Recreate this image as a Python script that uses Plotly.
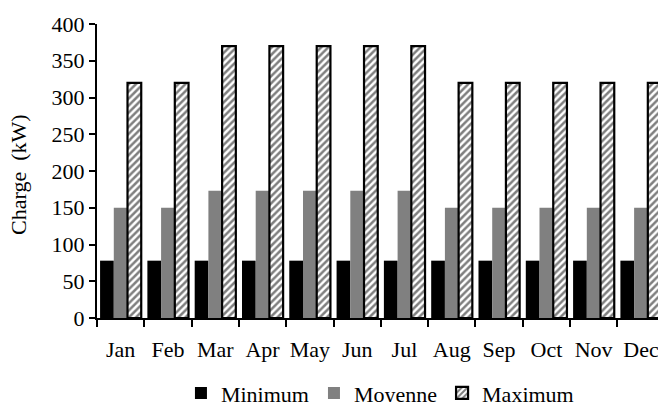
import plotly.graph_objects as go

# monthly load values (kW)
months = ["Jan", "Feb", "Mar", "Apr", "May", "Jun", "Jul", "Aug", "Sep", "Oct", "Nov", "Dec"]
minimum = [78, 78, 78, 78, 78, 78, 78, 78, 78, 78, 78, 78]
moyenne = [150, 150, 173, 173, 173, 173, 173, 150, 150, 150, 150, 150]
maximum = [320, 320, 370, 370, 370, 370, 370, 320, 320, 320, 320, 320]
y_ticks = [0, 50, 100, 150, 200, 250, 300, 350, 400]

serif = "Liberation Serif"
txt = dict(family=serif, size=22, color="black")

fig = go.Figure()
fig.add_trace(go.Bar(x=months, y=minimum, name="Minimum",
                     marker=dict(color="black", line=dict(width=0))))
fig.add_trace(go.Bar(x=months, y=moyenne, name="Moyenne",
                     marker=dict(color="#808080", line=dict(width=0))))
fig.add_trace(go.Bar(x=months, y=maximum, name="Maximum",
                     marker=dict(color="white",
                                 line=dict(color="black", width=2.2),
                                 pattern=dict(shape="/", fgcolor="black", bgcolor="white",
                                              size=5, solidity=0.5, fillmode="overlay"))))

fig.update_layout(
    width=658, height=402,
    margin=dict(l=97, r=0, t=24, b=84),
    paper_bgcolor="white", plot_bgcolor="white",
    barmode="group", bargap=0.13, bargroupgap=0,
    font=txt,
    showlegend=True,
    legend=dict(orientation="h", xref="container", x=0.275, xanchor="left",
                yref="container", y=0.022, yanchor="middle",
                font=txt, itemwidth=30),
)
fig.update_xaxes(
    range=[-0.5, 11.36], automargin=False, tickangle=0, tickfont=txt,
    showline=True, linecolor="black", linewidth=2,
    ticks="outside", tickson="boundaries", ticklen=7, tickwidth=1.5, tickcolor="black",
    ticklabelstandoff=11, showgrid=False,
)
fig.update_yaxes(
    range=[0, 400], tickvals=y_ticks, automargin=False, tickfont=txt,
    showline=True, linecolor="black", linewidth=2,
    ticks="outside", ticklen=6, tickwidth=1.5, tickcolor="black",
    showgrid=False, zeroline=False,
)
# y title as a rotated note, placed left of the tick labels
fig.add_annotation(text="Charge\u00a0 (kW)", textangle=-90, showarrow=False,
                   xref="paper", yref="paper", x=-0.14, y=0.488,
                   xanchor="center", yanchor="middle",
                   font=dict(family=serif, size=22, color="black"))

# drop the default body margin so the figure sits at the window's corner
fig.write_html("out.html", config={"displayModeBar": False},
               post_script="document.body.style.margin='0';")
